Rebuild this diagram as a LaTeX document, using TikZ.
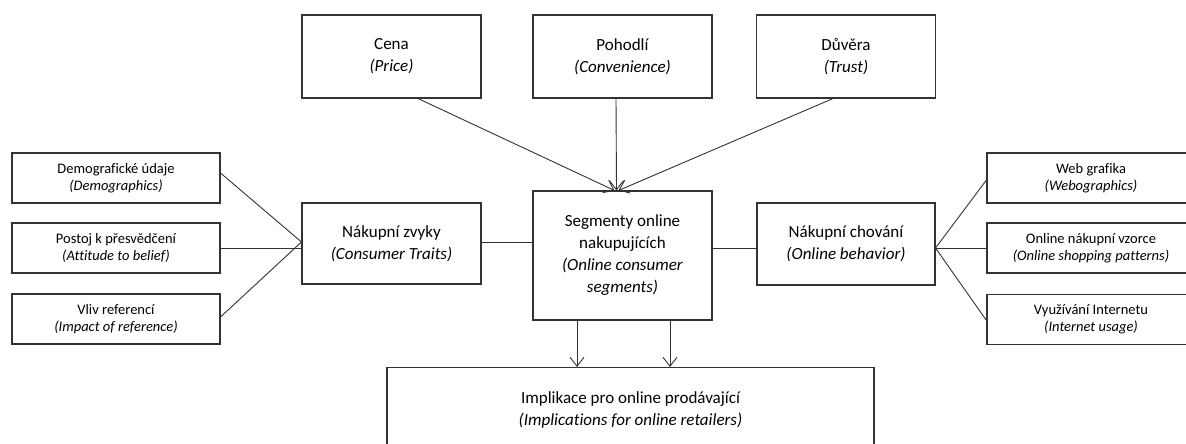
\documentclass[tikz,border=0pt]{standalone}
\usepackage{fontspec}
\setmainfont{Carlito}[Ligatures=NoCommon]
\usetikzlibrary{arrows.meta,calc}
\begin{document}
\begin{tikzpicture}[x=1pt,y=-1pt,
  box/.style={draw=black!80,line width=1.05pt,fill=white,align=center,inner sep=0pt,
              font=\fontsize{17}{22}\selectfont},
  bigbox/.style={box,minimum width=179pt},
  smallbox/.style={box,minimum width=208pt,minimum height=50pt,
              font=\fontsize{14.5}{17}\selectfont},
  link/.style={draw=black!80,line width=0.9pt},
  arrow/.style={link,-{Straight Barb[length=9pt,width=14pt]}}]
\useasboundingbox (0,0) rectangle (1186,444);
\begin{scope}
\clip (0,0) rectangle (1186,444);

% factors at the top
\node[bigbox,minimum height=83pt] (cena) at (391.5,56.5) {Cena\\\textit{(Price)}};
\node[bigbox,minimum height=83pt] (pohodli) at (622.5,56.5) {Pohodlí\\\textit{(Convenience)}};
\node[bigbox,minimum height=83pt] (duvera) at (846,56.5) {Důvěra\\\textit{(Trust)}};

% middle row
\node[bigbox,minimum height=129pt] (seg) at (622.5,255.5)
  {Segmenty online\\nakupujících\\\textit{(Online consumer}\\\textit{segments)}};
\node[bigbox,minimum height=81pt] (traits) at (391.5,243.5) {Nákupní zvyky\\\textit{(Consumer Traits)}};
\node[bigbox,minimum height=82pt,minimum width=178pt] (behav) at (846,244) {Nákupní chování\\\textit{(Online behavior)}};

% consumer traits, left column
\node[smallbox] (demo) at (116,178) {Demografické údaje\\\textit{(Demographics)}};
\node[smallbox] (postoj) at (116,248) {Postoj k přesvědčení\\\textit{(Attitude to belief)}};
\node[smallbox] (vliv) at (116,319) {Vliv referencí\\\textit{(Impact of reference)}};

% online behaviour, right column
\node[smallbox] (web) at (1091,178) {Web grafika\\\textit{(Webographics)}};
\node[smallbox] (vzorce) at (1091,248) {Online nákupní vzorce\\\textit{(Online shopping patterns)}};
\node[smallbox] (usage) at (1091,319.5) {Využívání Internetu\\\textit{(Internet usage)}};

% implications at the bottom
\node[box,minimum width=487pt,minimum height=110pt,anchor=north] (impl) at (630.5,367) {};
\node[font=\fontsize{17}{22}\selectfont,align=center] (impltext) at (630.5,409.5)
  {Implikace pro online prodávající\\\textit{(Implications for online retailers)}};

% arrows into the segments box
\coordinate (tip) at ($(seg.north)+(-8,0)$);
\draw[arrow] ($(cena.south)+(26.5,0)$) -- (tip);
\draw[arrow] ($(pohodli.south)+(-6.5,0)$) -- ($(tip)+(2,0)$);
\draw[arrow] ($(duvera.south)+(-13,0)$) -- ($(tip)+(4,0)$);

% fan on the left
\coordinate (lfan) at ($(traits.west)+(0,-1.5)$);
\draw[link] ($(demo.east)+(0,-5)$) -- (lfan);
\draw[link] (postoj.east) -- (postoj.east -| lfan);
\draw[link] ($(vliv.east)+(0,-2)$) -- (lfan);
\draw[link] (lfan -| traits.east) -- (lfan -| seg.west);

% fan on the right
\coordinate (rfan) at ($(behav.east)+(0,4)$);
\draw[link] ($(web.west)+(0,2)$) -- (rfan);
\draw[link] (vzorce.west) -- (rfan);
\draw[link] ($(usage.west)+(0,1)$) -- (rfan);
\draw[link] (rfan -| behav.west) -- (rfan -| seg.east);

% arrows to the implications box
\coordinate (outa) at ($(seg.south)+(-45.5,0)$);
\coordinate (outb) at ($(seg.south)+(47.5,0)$);
\draw[arrow] (outa) -- (outa |- impl.north);
\draw[arrow] (outb) -- (outb |- impl.north);
\end{scope}
\end{tikzpicture}
\end{document}
